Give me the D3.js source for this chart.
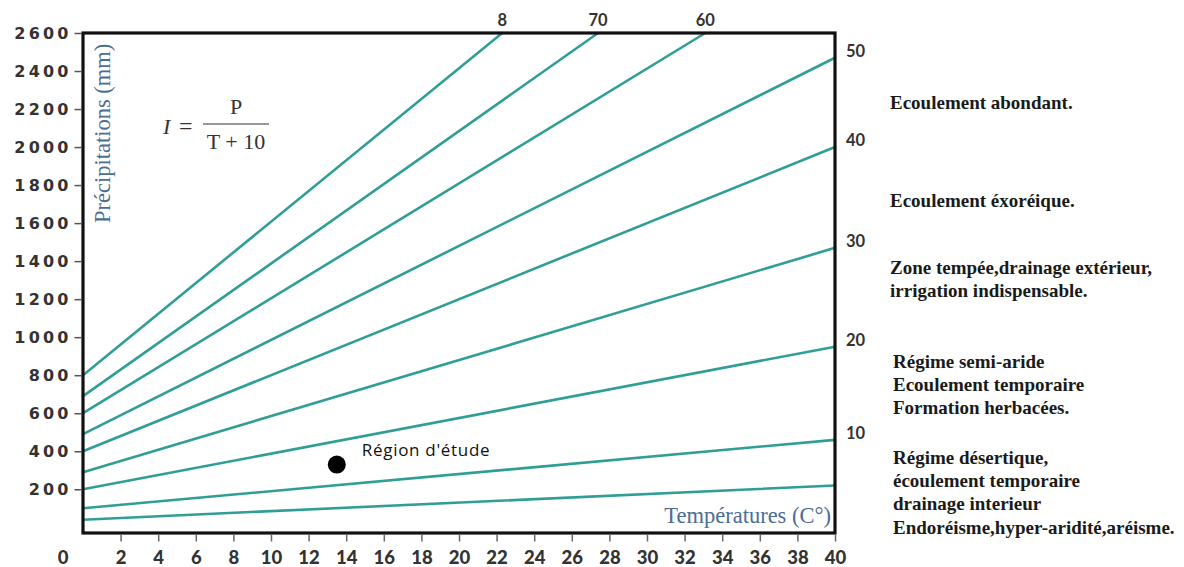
<!DOCTYPE html>
<html>
<head>
<meta charset="utf-8">
<script src="https://cdn.jsdelivr.net/npm/d3@7"></script>
<style>
  html, body { margin: 0; padding: 0; background: #fff; }
  svg { display: block; }
</style>
</head>
<body>
<svg id="chart" width="1184" height="567"></svg>
<script>
// ---------- DATA ----------
const tempTicks = [2,4,6,8,10,12,14,16,18,20,22,24,26,28,30,32,34,36,38,40];
const precipTicks = [200,400,600,800,1000,1200,1400,1600,1800,2000,2200,2400,2600];
// iso-index lines I = P/(T+10): start (T=0) and end points
const lineIndex  = [80, 70, 60, 50, 40, 30, 20, 10, 5];
const lineStartP = [800, 690, 600, 490, 400, 290, 200, 100, 40];
const lineEndT   = [22.3, 27.4, 33.1, 40, 40, 40, 40, 40, 40];
const lineEndP   = [2600, 2600, 2600, 2470, 2000, 1470, 950, 460, 220];
const topLabels   = ["8", "70", "60"];              // labels above lines leaving through the top
const rightLabels = ["50", "40", "30", "20", "10"]; // labels to the right of the frame
const studyT = [13.5];
const studyP = [330];
const studyName = ["Région d'étude"];
const zoneTexts = [
  ["Ecoulement abondant."],
  ["Ecoulement éxoréique."],
  ["Zone tempée,drainage extérieur,", "irrigation indispensable."],
  ["Régime semi-aride", "Ecoulement temporaire", "Formation herbacées."],
  ["Régime désertique,", "écoulement temporaire", "drainage interieur", "Endoréisme,hyper-aridité,aréisme."]
];

// ---------- LAYOUT ----------
const svg = d3.select("#chart");
const L = 83, R = 835, T = 33, B = 533;
const x = d3.scaleLinear().domain([0, 40]).range([L, R]);
const y = d3.scaleLinear().domain([-30, 2600]).range([B, T]);

const lineColor = "#2f9f95";
const axisColor = "#111";
const labelGrey = "#333";
const blueTitle = "#4c6d93";

// iso lines
const lineGen = d3.line().x(d => x(d[0])).y(d => y(d[1]));
const lines = lineIndex.map((I, i) => [[0, lineStartP[i]], [lineEndT[i], lineEndP[i]]]);
svg.append("g").selectAll("path").data(lines).join("path")
  .attr("d", lineGen)
  .attr("fill", "none")
  .attr("stroke", lineColor)
  .attr("stroke-width", 2.6)
  .attr("stroke-linecap", "round");

// frame
svg.append("rect")
  .attr("x", L).attr("y", T).attr("width", R - L).attr("height", B - T)
  .attr("fill", "none").attr("stroke", axisColor).attr("stroke-width", 3.2);

// Y axis
const yAxis = d3.axisLeft(y).tickValues(precipTicks).tickFormat(d3.format("d")).tickSize(7).tickPadding(6);
const gy = svg.append("g").attr("transform", `translate(${L - 1.5},0)`).call(yAxis);
gy.select(".domain").remove();
gy.selectAll(".tick line").attr("stroke", "#555").attr("stroke-width", 1.5);
gy.selectAll(".tick text")
  .attr("fill", labelGrey)
  .attr("font-family", "DejaVu Sans")
  .attr("font-weight", "bold")
  .attr("font-size", 16)
  .attr("letter-spacing", "3.2px")
  .attr("dx", 3.2);

// X axis
const xAxis = d3.axisBottom(x).tickValues(tempTicks).tickSize(7).tickPadding(5);
const gx = svg.append("g").attr("transform", `translate(0,${B + 1.5})`).call(xAxis);
gx.select(".domain").remove();
gx.selectAll(".tick line").attr("stroke", "#666").attr("stroke-width", 1.5);
gx.selectAll(".tick text")
  .attr("fill", labelGrey)
  .attr("font-family", "Lato")
  .attr("font-weight", "900")
  .attr("font-size", 18.5)
  .attr("dy", "0.95em");

// origin "0"
svg.append("text")
  .attr("x", 63).attr("y", 564)
  .attr("text-anchor", "middle")
  .attr("fill", labelGrey)
  .attr("font-family", "Lato").attr("font-weight", "900").attr("font-size", 18.5)
  .text("0");

// top labels
svg.append("g").selectAll("text").data(topLabels).join("text")
  .attr("x", (d, i) => x(lineEndT[i]))
  .attr("y", T - 7)
  .attr("text-anchor", "middle")
  .attr("fill", labelGrey)
  .attr("font-family", "Lato").attr("font-weight", "bold").attr("font-size", 16.5)
  .text(d => d);

// right labels
svg.append("g").selectAll("text").data(rightLabels).join("text")
  .attr("x", R + 11)
  .attr("y", (d, i) => y(lineEndP[i + 3]) - 1)
  .attr("fill", labelGrey)
  .attr("font-family", "Lato").attr("font-weight", "bold").attr("font-size", 16.5)
  .text(d => d);

// axis titles
svg.append("text")
  .attr("transform", `translate(110, 223) rotate(-90)`)
  .attr("fill", blueTitle)
  .attr("font-family", "Liberation Serif").attr("font-size", 22.5)
  .text("Précipitations (mm)");

svg.append("text")
  .attr("x", R - 4).attr("y", 523)
  .attr("text-anchor", "end")
  .attr("fill", blueTitle)
  .attr("font-family", "Liberation Serif").attr("font-size", 22.5)
  .text("Températures (C°)");

// formula
const fg = svg.append("g").attr("fill", "#333").attr("font-family", "Liberation Serif").attr("font-size", 22);
fg.append("text").attr("x", 163).attr("y", 134).attr("font-style", "italic").text("I");
fg.append("text").attr("x", 179).attr("y", 134).attr("font-size", 24).text("=");
fg.append("line").attr("x1", 203).attr("x2", 269).attr("y1", 124).attr("y2", 124)
  .attr("stroke", "#333").attr("stroke-width", 1.2);
fg.append("text").attr("x", 236).attr("y", 114).attr("text-anchor", "middle").text("P");
fg.append("text").attr("x", 236).attr("y", 149).attr("text-anchor", "middle").text("T + 10");

// study region point
svg.append("g").selectAll("circle").data(studyT).join("circle")
  .attr("cx", d => x(d)).attr("cy", (d, i) => y(studyP[i]))
  .attr("r", 9).attr("fill", "#000");
svg.append("g").selectAll("text").data(studyName).join("text")
  .attr("x", (d, i) => x(studyT[i]) + 25)
  .attr("y", (d, i) => y(studyP[i]) - 9)
  .attr("fill", "#111")
  .attr("font-family", "Open Sans").attr("font-size", 17)
  .attr("letter-spacing", "0.7px")
  .text(d => d);

// zone descriptions
const zoneTop = [103, 201, 268, 362, 458];
const zoneX = [890, 890, 890, 893, 893];
const zg = svg.append("g").attr("fill", "#1a1a1a").attr("font-family", "Liberation Serif")
  .attr("font-weight", "bold").attr("font-size", 19);
zoneTexts.forEach((lns, i) => {
  const t = zg.append("text").attr("x", zoneX[i]).attr("y", zoneTop[i] + 6);
  lns.forEach((s, j) => t.append("tspan").attr("x", zoneX[i]).attr("dy", j === 0 ? 0 : 23.2).text(s));
});
</script>
</body>
</html>
